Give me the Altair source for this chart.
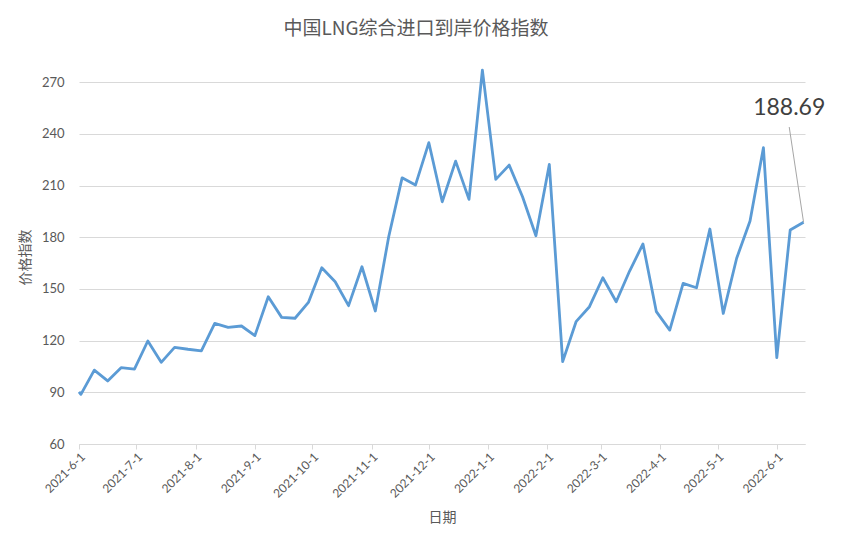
import altair as alt
import pandas as pd

values = [90.3, 88.8, 102.9, 96.6, 104.3, 103.5, 119.8, 107.4, 116.1, 115.0,
          114.1, 130.0, 127.7, 128.5, 122.9, 145.5, 133.5, 133.0, 142.2, 162.3,
          154.2, 140.3, 162.9, 137.2, 180.3, 214.5, 210.3, 234.9, 200.6, 224.2,
          202.0, 277.0, 213.6, 221.9, 203.5, 180.9, 222.3, 107.8, 131.0, 139.7,
          156.5, 142.6, 160.4, 176.1, 136.8, 126.1, 153.2, 150.7, 184.8, 135.8,
          167.8, 189.4, 232.0, 110.1, 184.2, 188.69]
dates = ["2021-06-01"] + list(pd.date_range("2021-06-02", periods=55, freq="7D").strftime("%Y-%m-%d"))

tick_dates = ["2021-06-01", "2021-07-01", "2021-08-01", "2021-09-01", "2021-10-01",
              "2021-11-01", "2021-12-01", "2022-01-01", "2022-02-01", "2022-03-01",
              "2022-04-01", "2022-05-01", "2022-06-01"]
y_ticks = [60, 90, 120, 150, 180, 210, 240, 270]

ann_text = ["188.69"]
ann_label_date = ["2022-06-07T12:00:00"]
ann_label_value = [255.0]
ann_line_start = ("2022-06-07T12:00:00", 244.0)
ann_line_end = ("2022-06-15", 188.69)

df = pd.DataFrame({"date": dates, "value": values})
tick_ms = [int(pd.Timestamp(d).value // 10**6) for d in tick_dates]
x_domain = [int(pd.Timestamp("2021-06-01").value // 10**6), int(pd.Timestamp("2022-06-15T18:00:00").value // 10**6)]

CN = "Noto Sans CJK SC"
NUM = "Lato"
GRAY = "#595959"

x_enc = alt.X("date:T", scale=alt.Scale(type="utc", domain=x_domain, nice=False),
              axis=alt.Axis(values=tick_ms, labelExpr="utcFormat(datum.value, '%Y-%-m-%-d')",
                            labelAngle=315, labelFont=NUM, labelFontSize=12, labelColor=GRAY,
                            grid=False, domainColor="#d9d9d9", tickColor="#d9d9d9", tickSize=5,
                            labelPadding=2, title="日期", titleFont=CN, titleFontSize=14,
                            titleFontWeight="normal", titleColor=GRAY, titleY=73,
                            titleBaseline="middle"))
y_enc = alt.Y("value:Q", scale=alt.Scale(domain=[60, 280], nice=False, zero=False),
              axis=alt.Axis(values=y_ticks, labelFont=NUM, labelFontSize=13, labelColor=GRAY,
                            ticks=False, domain=False, gridColor="#d9d9d9", gridWidth=1,
                            labelPadding=15, title="价格指数", titleFont=CN, titleFontSize=14,
                            titleFontWeight="normal", titleColor=GRAY, titleX=-54, titleY=192,
                            titleAngle=270, titleBaseline="middle", titleAlign="center"))

line = alt.Chart(df).mark_line(color="#5B9BD5", strokeWidth=2.8, strokeJoin="round").encode(
    x=x_enc, y=y_enc)

lead_df = pd.DataFrame({"d1": [ann_line_start[0]], "v1": [ann_line_start[1]],
                        "d2": [ann_line_end[0]], "v2": [ann_line_end[1]]})
leader = alt.Chart(lead_df).mark_rule(color="#a6a6a6", strokeWidth=1).encode(
    x="d1:T", y="v1:Q", x2="d2:T", y2="v2:Q")

ann_df = pd.DataFrame({"d": ann_label_date, "v": ann_label_value, "t": ann_text})
label = alt.Chart(ann_df).mark_text(font=NUM, fontSize=23, color="#404040", align="center",
                                    baseline="middle").encode(x="d:T", y="v:Q", text="t:N")

chart = alt.layer(line, leader, label).properties(
    width=726, height=379,
    title=alt.TitleParams("中国LNG综合进口到岸价格指数", font=CN, fontSize=19, fontWeight="normal",
                          color=GRAY, anchor="middle", dx=-26, offset=26),
    autosize=alt.AutoSizeParams(type="none"),
    padding={"left": 71, "top": 57, "right": 30, "bottom": 88},
).configure_view(stroke=None)

chart.save("out.html", embed_options={"renderer": "svg", "actions": False})
